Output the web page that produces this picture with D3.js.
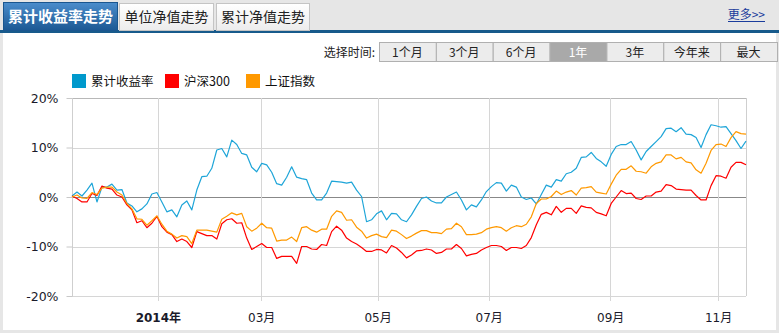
<!DOCTYPE html>
<html>
<head>
<meta charset="utf-8">
<script src="https://cdn.jsdelivr.net/npm/d3@7"></script>
<style>
  body { margin: 0; background: #fff; }
  svg { display: block; font-family: "DejaVu Sans", Verdana, sans-serif; }
  .cjk { font-family: "Noto Sans CJK SC", "DejaVu Sans", sans-serif; }
</style>
</head>
<body>
<svg id="chart" width="779" height="333"></svg>
<script>
const seriesNames = ["累计收益率", "沪深300", "上证指数"];
const seriesColors = ["#1ea5d8", "#ff0000", "#ff9900"];

// cumulative return, % (one value per ~2 trading days)
const fund = [
  0.2, 1.0, 0.2, 1.4, 2.8, -1.0, 2.0, 2.0, 2.6, 1.4,
  1.5, -1.2, -1.8, -3.0, -2.4, -1.4, 0.6, 0.9, -1.0, -3.0,
  -2.6, -4.0, -1.6, -0.8, -2.6, 1.4, 4.1, 4.2, 5.8, 9.5,
  9.8, 8.1, 11.5, 10.6, 8.8, 8.5, 6.0, 5.1, 6.8, 6.5,
  5.0, 2.7, 2.4, 4.0, 6.1, 4.0, 3.7, 3.5, 0.8, -0.6,
  -0.6, 0.8, 3.2, 3.1, 3.0, 2.8, 3.0, 1.4, 0.1, -5.0,
  -4.6, -3.4, -2.8, -4.6, -3.3, -3.4, -4.6, -5.0, -3.6, -1.9,
  -0.3, 0.0, -0.8, -1.2, -1.2, 0.0, 0.5, 1.0, -0.6, -2.6,
  -1.6, -2.0, -0.6, 1.1, 2.1, 2.9, 2.8, 1.2, 2.4, 2.0,
  0.0, -0.5, -0.2, -1.4, 0.5, 2.4, 2.0, 3.5, 3.2, 4.7,
  5.0, 5.8, 8.0, 8.1, 9.0, 7.8, 7.1, 6.2, 8.6, 10.2,
  10.6, 10.6, 11.2, 9.5, 7.5, 9.2, 10.2, 11.2, 12.2, 13.8,
  13.9, 13.2, 14.0, 12.7, 12.6, 12.0, 10.0, 12.6, 14.6, 14.4,
  14.1, 14.2, 12.8, 11.4, 9.8, 11.3
];
const hs300 = [
  0.2, -0.3, -1.0, -1.0, 0.7, 0.3, 2.2, 1.8, 1.6, 0.4,
  0.0, -1.6, -2.6, -5.2, -4.8, -6.2, -5.3, -3.9, -6.0, -7.1,
  -7.6, -9.0, -8.5, -9.0, -10.2, -7.0, -7.4, -7.8, -7.8, -8.5,
  -5.4, -4.6, -4.4, -5.3, -5.2, -8.3, -10.6, -10.0, -9.4, -10.2,
  -10.2, -12.4, -12.0, -12.0, -12.0, -13.4, -10.0, -10.0, -10.5, -10.6,
  -9.6, -9.8, -7.0, -5.9, -6.7, -8.3, -9.0, -9.5, -10.2, -11.0,
  -11.0, -10.6, -10.7, -11.3, -9.8, -10.3, -11.2, -12.3, -11.7, -10.9,
  -10.8, -10.5, -10.7, -11.4, -11.2, -10.5, -10.5, -9.6, -10.4, -11.9,
  -11.6, -11.4, -10.7, -10.2, -9.8, -9.8, -10.0, -10.8, -10.2, -10.2,
  -10.4, -9.8, -8.2, -5.6, -3.5, -3.1, -3.6, -1.9, -3.1, -2.3,
  -2.3, -3.3, -1.8, -2.1, -2.2, -3.1, -3.4, -3.8, -1.3, 0.0,
  1.3, 0.7, 0.8, -0.3, -0.5, 0.2, 0.2, 1.0, 1.2, 2.5,
  2.3, 1.6, 1.5, 1.4, 1.4, 0.3, -0.6, -0.6, 2.3, 4.3,
  4.2, 3.8, 6.0, 7.0, 7.0, 6.5
];
const shIndex = [
  0.0, 0.4, -0.2, -0.3, 0.9, 0.5, 1.8, 2.0, 2.0, 1.0,
  0.4, -1.3, -2.4, -4.4, -4.5, -5.7, -4.8, -3.8, -5.5, -6.9,
  -7.5, -8.3, -7.8, -8.0, -9.4, -6.7, -6.7, -6.7, -6.9, -7.1,
  -4.5, -3.9, -3.2, -3.6, -3.3, -6.0, -6.9, -6.3, -5.3, -6.2,
  -6.3, -8.9, -8.7, -8.7, -8.1, -9.0, -6.2, -6.0, -6.7, -7.1,
  -6.5, -6.5, -3.9, -2.8, -3.1, -4.7, -4.6, -6.1, -6.9, -8.3,
  -7.8, -7.5, -8.0, -8.2, -6.7, -6.9, -7.6, -8.4, -7.9, -7.3,
  -6.8, -6.8, -7.2, -7.2, -7.4, -6.5, -6.4, -5.3, -6.0, -7.6,
  -7.6, -7.5, -7.2, -6.5, -6.2, -6.0, -6.2, -6.9, -6.2, -5.8,
  -6.0, -5.5, -4.0, -1.3, -0.4, -0.4, 0.1, 1.2, 0.5, 1.0,
  1.3, 0.4, 1.8, 1.9, 2.1, 1.0, 0.8, 0.6, 2.6, 4.4,
  5.6, 5.6, 6.3, 5.2, 5.1, 4.8, 6.1, 6.8, 7.1, 8.5,
  8.5, 7.7, 8.0, 7.1, 6.9, 5.5, 4.8, 6.8, 9.4, 10.6,
  10.7, 10.2, 12.0, 13.2, 12.8, 12.7
];

// x tick positions (sample index where each month starts) and their labels
const tickIdx = [17.2, 37.9, 61.2, 83.45, 107.8, 129.4];
const tickLabels = ["2014年", "03月", "05月", "07月", "09月", "11月"];
const yTicks = [-20, -10, 0, 10, 20];

const tabLabels = ["累计收益率走势", "单位净值走势", "累计净值走势"];
const periodLabels = ["1个月", "3个月", "6个月", "1年", "3年", "今年来", "最大"];
const activePeriod = "1年";

const svg = d3.select("#chart");

// ---- frame / tab bar ----
svg.append("rect").attr("x", 0).attr("y", 0).attr("width", 779).attr("height", 31).attr("fill", "#e6e6e6");
svg.append("rect").attr("x", 0).attr("y", 30).attr("width", 779).attr("height", 3).attr("fill", "#175a8b");
svg.append("rect").attr("x", 0).attr("y", 33).attr("width", 3).attr("height", 300).attr("fill", "#e6e6e6");
svg.append("rect").attr("x", 776).attr("y", 33).attr("width", 3).attr("height", 300).attr("fill", "#e6e6e6");
svg.append("rect").attr("x", 0).attr("y", 330).attr("width", 779).attr("height", 3).attr("fill", "#e6e6e6");

const defs = svg.append("defs");
const gA = defs.append("linearGradient").attr("id", "tabActive").attr("x1", 0).attr("y1", 0).attr("x2", 0).attr("y2", 1);
gA.append("stop").attr("offset", "0%").attr("stop-color", "#4b8dcc");
gA.append("stop").attr("offset", "100%").attr("stop-color", "#1c5893");
const gI = defs.append("linearGradient").attr("id", "tabIdle").attr("x1", 0).attr("y1", 0).attr("x2", 0).attr("y2", 1);
gI.append("stop").attr("offset", "0%").attr("stop-color", "#ffffff");
gI.append("stop").attr("offset", "100%").attr("stop-color", "#ececec");

const tabX = [3, 119, 216];
const tabW = [115, 95, 94];
tabLabels.forEach((t, i) => {
  const active = i === 0;
  svg.append("rect")
    .attr("x", tabX[i] + 0.5).attr("y", active ? 2.5 : 3.5)
    .attr("width", tabW[i] - 1).attr("height", active ? 28 : 27)
    .attr("fill", active ? "url(#tabActive)" : "url(#tabIdle)")
    .attr("stroke", active ? "#1a568f" : "#c4c4c4");
  svg.append("text").attr("class", "cjk")
    .attr("x", tabX[i] + tabW[i] / 2).attr("y", 22)
    .attr("text-anchor", "middle")
    .attr("font-size", active ? 15 : 14)
    .attr("font-weight", active ? "bold" : "normal")
    .attr("fill", active ? "#fff" : "#222")
    .text(t);
});

const more = svg.append("text").attr("class", "cjk")
  .attr("x", 765).attr("y", 19).attr("text-anchor", "end")
  .attr("font-size", 12).attr("fill", "#1a3c9c").text("更多>>");
svg.append("line").attr("x1", 728).attr("x2", 765).attr("y1", 21.5).attr("y2", 21.5)
  .attr("stroke", "#1a3c9c").attr("stroke-width", 1);

// ---- period selector ----
svg.append("text").attr("class", "cjk")
  .attr("x", 375).attr("y", 57).attr("text-anchor", "end")
  .attr("font-size", 12).attr("fill", "#222").text("选择时间:");

const btnX = d3.scaleBand().domain(periodLabels).range([379, 777]);
const btn = svg.append("g").selectAll("g").data(periodLabels).enter().append("g");
btn.append("rect")
  .attr("x", d => btnX(d) + 0.5).attr("y", 42.5)
  .attr("width", btnX.bandwidth()).attr("height", 19)
  .attr("fill", d => d === activePeriod ? "#a9a9a9" : "#ececec")
  .attr("stroke", "#b0b0b0");
btn.append("text").attr("class", "cjk")
  .attr("x", d => btnX(d) + btnX.bandwidth() / 2).attr("y", 57)
  .attr("text-anchor", "middle").attr("font-size", 12)
  .attr("fill", d => d === activePeriod ? "#fff" : "#222")
  .text(d => d);

// ---- legend ----
const legX = [72, 165, 246];
seriesNames.forEach((name, i) => {
  svg.append("rect").attr("x", legX[i]).attr("y", 74).attr("width", 14).attr("height", 14)
    .attr("fill", i === 0 ? "#0099cc" : seriesColors[i]);
  svg.append("text").attr("class", "cjk")
    .attr("x", legX[i] + 19).attr("y", 86).attr("font-size", 12.5).attr("fill", "#111")
    .text(name);
});

// ---- plot ----
const n = fund.length;
const x = d3.scaleLinear().domain([0, n - 1]).range([72, 746]);
const y = d3.scaleLinear().domain([-20, 20]).range([296, 98]);

const grid = svg.append("g").attr("shape-rendering", "crispEdges");
grid.selectAll("line.h").data(yTicks).enter().append("line")
  .attr("x1", 72).attr("x2", 746)
  .attr("y1", d => Math.round(y(d)) + 0.5).attr("y2", d => Math.round(y(d)) + 0.5)
  .attr("stroke", d => d === 0 ? "#888" : (d === 20 ? "#b8b8b8" : "#d6d6d6"));
grid.selectAll("line.v").data(tickIdx).enter().append("line")
  .attr("x1", d => Math.round(x(d)) + 0.5).attr("x2", d => Math.round(x(d)) + 0.5)
  .attr("y1", 98).attr("y2", 301)
  .attr("stroke", "#d6d6d6");
grid.append("line").attr("x1", 72.5).attr("x2", 72.5).attr("y1", 98).attr("y2", 296).attr("stroke", "#cfcfcf");
grid.append("line").attr("x1", 746.5).attr("x2", 746.5).attr("y1", 98).attr("y2", 296).attr("stroke", "#cfcfcf");

const yAxis = svg.append("g").attr("transform", "translate(72.5,0)")
  .call(d3.axisLeft(y).tickValues(yTicks).tickSize(6).tickPadding(8).tickFormat(d => d + "%"));
yAxis.select(".domain").remove();
yAxis.selectAll(".tick line").attr("stroke", "#c8c8c8");
yAxis.selectAll("text").attr("font-size", 12.5).attr("fill", "#1a1a2a")
  .attr("font-family", "DejaVu Sans, Verdana, sans-serif");

const xAxis = svg.append("g").attr("transform", "translate(0,296)")
  .call(d3.axisBottom(x).tickValues(tickIdx).tickSize(0).tickPadding(17)
    .tickFormat((d, i) => tickLabels[i]));
xAxis.select(".domain").remove();
xAxis.selectAll("text")
  .attr("font-size", 12).attr("fill", "#1a1a2a")
  .attr("font-family", "DejaVu Sans, Noto Sans CJK SC, sans-serif")
  .attr("font-weight", (d, i) => i === 0 ? "bold" : "normal");

const line = d3.line().x((d, i) => x(i)).y(d => y(d));
[fund, hs300, shIndex].forEach((s, k) => {
  svg.append("path").datum(s)
    .attr("fill", "none")
    .attr("stroke", seriesColors[k])
    .attr("stroke-width", 1.2)
    .attr("stroke-linejoin", "round")
    .attr("d", line);
});
</script>
</body>
</html>
